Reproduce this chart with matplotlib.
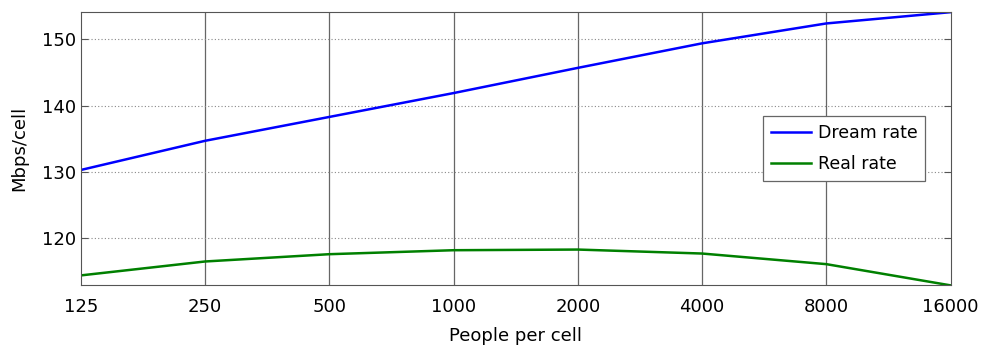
import matplotlib
matplotlib.use("Agg")
import matplotlib.pyplot as plt
import numpy as np

people = [125, 250, 500, 1000, 2000, 4000, 8000, 16000]
dream_rate = [130.3, 134.7, 138.3, 141.9, 145.7, 149.4, 152.4, 154.1]
real_rate = [114.4, 116.5, 117.6, 118.2, 118.3, 117.7, 116.1, 112.9]

plt.rcParams['font.family'] = 'DejaVu Sans'
fig, ax = plt.subplots(figsize=(9.85, 3.48), dpi=100)
fig.subplots_adjust(left=0.082, right=0.965, top=0.965, bottom=0.18)

x = np.log2(people)
ax.plot(x, dream_rate, color='#0000ff', lw=1.8, label='Dream rate')
ax.plot(x, real_rate, color='#008000', lw=1.8, label='Real rate')

ax.set_xlim(x[0], x[-1])
ax.set_ylim(112.9, 154.1)
ax.set_xticks(x)
ax.set_xticklabels([str(p) for p in people])
ax.set_yticks([120, 130, 140, 150])

# vertical grid solid, horizontal dotted
for xi in x[1:-1]:
    ax.axvline(xi, color='#666666', lw=0.9, zorder=0)
ax.yaxis.grid(True, linestyle=(0, (1, 2)), color='#888888', lw=0.8)

for s in ax.spines.values():
    s.set_color('#555555')
ax.tick_params(axis='both', direction='in', labelsize=13, color='#555555', length=5)
ax.tick_params(axis='x', length=0, pad=9)
ax.tick_params(axis='y', right=True)

ax.set_xlabel('People per cell', fontsize=13, labelpad=8)
ax.set_ylabel('Mbps/cell', fontsize=13, labelpad=10)

leg = ax.legend(loc='center right', bbox_to_anchor=(0.981, 0.5), fontsize=12.5,
                fancybox=False, framealpha=1, edgecolor='#666666',
                handlelength=2.3, borderpad=0.45, labelspacing=0.75, handletextpad=0.4)
leg.get_frame().set_linewidth(0.9)

fig.savefig('out.png', dpi=100)
